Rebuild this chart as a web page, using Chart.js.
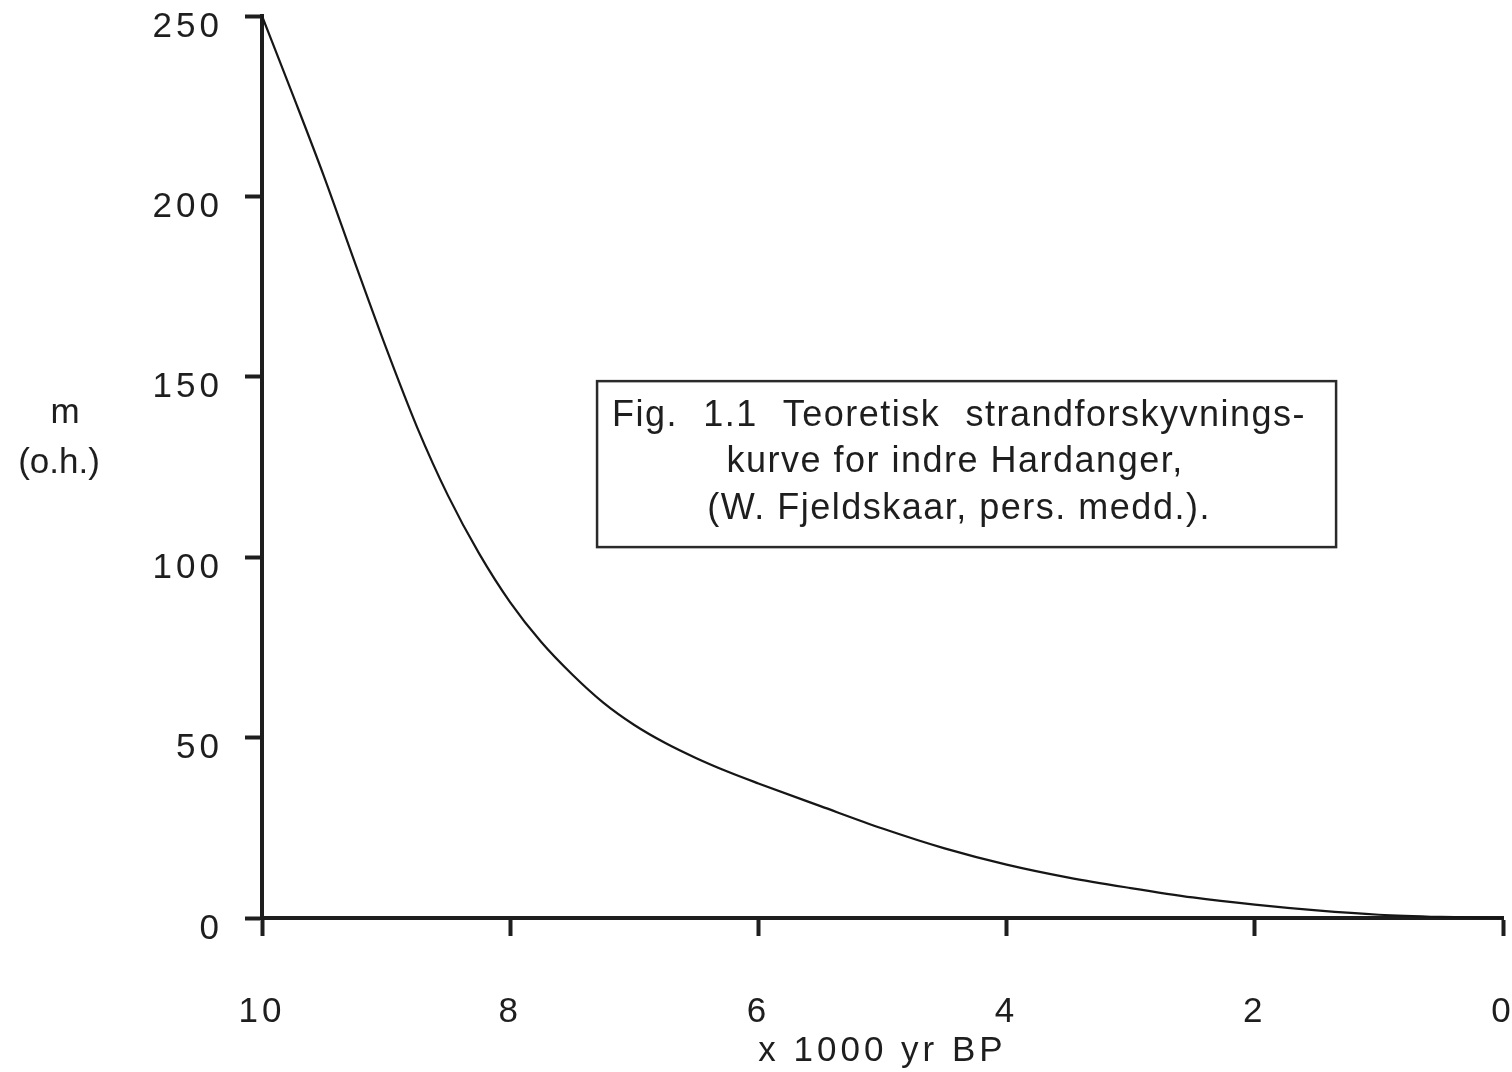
<!DOCTYPE html>
<html>
<head>
<meta charset="utf-8">
<script src="https://cdn.jsdelivr.net/npm/chart.js@4.4.1/dist/chart.umd.min.js"></script>
<style>
  html, body { margin: 0; padding: 0; background: #fff; }
  canvas { display: block; }
</style>
</head>
<body>
<canvas id="chart" width="1512" height="1072"></canvas>
<script>
// x 1000 yr BP (reversed axis, 10 -> 0)
const years = [10, 9.75, 9.5, 9.25, 9.0, 8.75, 8.5, 8.25, 8.0, 7.75, 7.5, 7.25, 7.0, 6.75, 6.5, 6.25, 6.0, 5.5, 5.0, 4.5, 4.0, 3.5, 3.0, 2.5, 2.0, 1.5, 1.0, 0.5, 0];
// m o.h.
const heights = [250, 228, 205.5, 181.5, 158, 136, 117, 101, 87.5, 76.5, 67.5, 59.7, 53.5, 48.5, 44.3, 40.6, 37.3, 31, 24.8, 19.3, 14.8, 11.2, 8.3, 5.7, 3.7, 2.1, 0.9, 0.3, 0];

const xTickValues = [10, 8, 6, 4, 2, 0];
const yTickValues = [0, 50, 100, 150, 200, 250];
const xTitle = 'x 1000 yr BP';
const yTitleLines = ['m', '(o.h.)'];
const captionLines = ['Fig. 1.1 Teoretisk strandforskyvnings-', 'kurve for indre Hardanger,', '(W. Fjeldskaar, pers. medd.).'];

const ink = '#1e1e1e';
const family = '"Liberation Sans", Arimo, Arial, Helvetica, sans-serif';

const extras = {
  id: 'extras',
  beforeDraw(chart) {
    const ctx = chart.ctx;
    ctx.save();
    ctx.fillStyle = '#fff';
    ctx.fillRect(0, 0, chart.width, chart.height);
    ctx.restore();
    ctx.letterSpacing = '4px';
  },
  afterDraw(chart) {
    const ctx = chart.ctx;
    const sx = chart.scales.x, sy = chart.scales.y;
    ctx.save();
    ctx.fillStyle = ink;
    ctx.font = '35px ' + family;
    ctx.textBaseline = 'alphabetic';

    // y axis title, horizontal, two lines
    ctx.letterSpacing = '0px';
    ctx.textAlign = 'center';
    ctx.fillText(yTitleLines[0], 65, 423);
    ctx.fillText(yTitleLines[1], 59, 473);

    // caption box inside the plot
    const left = sx.getPixelForValue(7.3), right = sx.getPixelForValue(1.345);
    const top = sy.getPixelForValue(148.8), bottom = sy.getPixelForValue(102.8);
    ctx.lineWidth = 2.5;
    ctx.strokeStyle = '#2a2a2a';
    ctx.strokeRect(left, top, right - left, bottom - top);

    ctx.letterSpacing = '1.5px';
    ctx.font = '36px ' + family;
    // first line justified
    const words = captionLines[0].split(' ');
    const x0 = left + 15, x1 = left + 709;
    const widths = words.map(w => ctx.measureText(w).width);
    const gap = (x1 - x0 - widths.reduce((a, b) => a + b, 0)) / (words.length - 1);
    ctx.textAlign = 'left';
    let cx = x0;
    words.forEach((w, i) => { ctx.fillText(w, cx, top + 45); cx += widths[i] + gap; });
    ctx.textAlign = 'center';
    ctx.fillText(captionLines[1], left + 358, top + 91);
    ctx.fillText(captionLines[2], left + 362, top + 138);
    ctx.restore();
    ctx.letterSpacing = '0px';
  }
};

new Chart(document.getElementById('chart'), {
  type: 'line',
  data: {
    datasets: [{
      data: years.map((x, i) => ({ x: x, y: heights[i] })),
      borderColor: '#161616',
      borderWidth: 2.2,
      pointRadius: 0,
      cubicInterpolationMode: 'monotone',
      fill: false,
      clip: false
    }]
  },
  options: {
    responsive: false,
    animation: false,
    layout: { padding: { top: 16, right: 9, bottom: 0, left: 0 } },
    plugins: { legend: { display: false }, tooltip: { enabled: false } },
    scales: {
      x: {
        type: 'linear', reverse: true, min: 0, max: 10,
        afterBuildTicks: s => { s.ticks = xTickValues.map(v => ({ value: v })); },
        afterFit: s => { s.height = 154; s.paddingLeft = 0; s.paddingRight = 0; },
        grid: { drawOnChartArea: false, drawTicks: true, tickLength: 18, tickWidth: 4, tickColor: ink },
        border: { display: true, width: 4, color: ink },
        ticks: { color: ink, font: { size: 35, family: family }, padding: 55, maxRotation: 0, autoSkip: false },
        title: { display: true, text: xTitle, color: ink, font: { size: 35, family: family }, padding: { top: 0, bottom: 0 } }
      },
      y: {
        type: 'linear', min: 0, max: 250,
        afterBuildTicks: s => { s.ticks = yTickValues.map(v => ({ value: v })); },
        afterFit: s => { s.width = 262; s.paddingTop = 0; s.paddingBottom = 0; },
        grid: { drawOnChartArea: false, drawTicks: true, tickLength: 17, tickWidth: 4, tickColor: ink },
        border: { display: true, width: 4, color: ink },
        ticks: { color: ink, font: { size: 35, family: family }, padding: 22, labelOffset: 11, autoSkip: false }
      }
    }
  },
  plugins: [extras]
});
</script>
</body>
</html>
